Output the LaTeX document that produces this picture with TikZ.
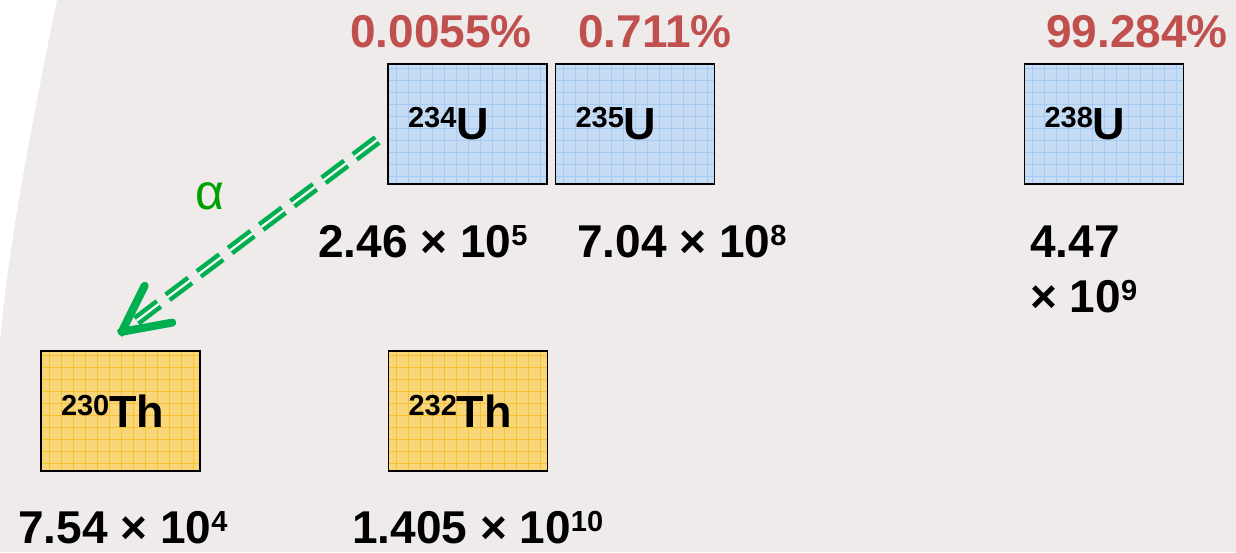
\documentclass[tikz,border=0pt]{standalone}
\usepackage{fontspec}
\setmainfont{Liberation Sans}
\usetikzlibrary{arrows.meta, positioning, calc}
\definecolor{slideBg}{HTML}{F0EBEB}
\definecolor{uBlue}{HTML}{C6DCF5}
\definecolor{uGrid}{HTML}{A6CBF2}
\definecolor{thGold}{HTML}{F8D679}
\definecolor{thGrid}{HTML}{F5C232}
\definecolor{pctRed}{HTML}{C0504D}
\definecolor{alphaGreen}{HTML}{00B050}
\definecolor{alphaText}{HTML}{00A000}
\newcommand{\isosup}[1]{\raisebox{12pt}{\fontsize{29}{29}\selectfont #1}}
\tikzset{
  isoBox/.style={rectangle, draw=black, line width=1.6pt, inner xsep=20pt,
                 inner ysep=0pt, text width=119pt, minimum height=120pt,
                 align=left, font=\bfseries\fontsize{45}{50}\selectfont},
  boxU/.style={isoBox, fill=uBlue,
               path picture={\draw[uGrid, line width=0.8pt, step=12pt]
                 (path picture bounding box.south west) grid
                 (path picture bounding box.north east);}},
  boxTh/.style={isoBox, fill=thGold,
                path picture={\draw[thGrid, line width=0.8pt, step=12pt]
                  (path picture bounding box.south west) grid
                  (path picture bounding box.north east);}},
  pctLbl/.style={anchor=base, inner sep=0pt, text=pctRed,
                 font=\bfseries\fontsize{46}{50}\selectfont},
  lifeLbl/.style={anchor=base west, inner sep=0pt, align=left,
                  font=\bfseries\fontsize{46}{55}\selectfont},
  alphaShaft/.style={draw=alphaGreen, line width=4.5pt, double=white,
                     double distance=2.2pt, dash pattern=on 28pt off 11pt},
  alphaTip/.style={-{Straight Barb[length=46pt, width=46pt, line width=8pt, round]},
                   draw=alphaGreen, line width=8pt},
  alphaLbl/.style={inner sep=0pt, text=alphaText, font=\fontsize{50}{54}\selectfont},
}
\begin{document}
\begin{tikzpicture}[x=1pt, y=-1pt]
  \useasboundingbox (0,0) rectangle (1236,552);
  \fill[slideBg] (0,0) rectangle (1236,552);
  \fill[white] (0,0) -- (57,0) .. controls (30,130) and (8,250) .. (0,340) -- cycle;
  % isotope boxes
  \foreach \n/\m/\x in {u234/234/467.5, u235/235/635, u238/238/1104}
    \node[boxU] (\n) at (\x,124) {\isosup{\m}U};
  \node[boxTh] (th230) at (120.5,411) {\isosup{230}Th};
  \node[boxTh] (th232) at (468,411) {\isosup{232}Th};
  % abundances
  \foreach \n/\x/\t in {234/441/0.0055, 235/655/0.711, 238/1137/99.284}
    \node[pctLbl] (p\n) at (\x,47) {\t\%};
  % half-lives
  \node[lifeLbl] (t234) at (318,257) {2.46 × 10\isosup{5}};
  \node[lifeLbl] (t235) at (577,257) {7.04 × 10\isosup{8}};
  \node[lifeLbl] (t238) at (1030,312) {4.47\\× 10\isosup{9}};
  \node[lifeLbl] (t230) at (18,543) {7.54 × 10\isosup{4}};
  \node[lifeLbl] (t232) at (352,543) {1.405 × 10\isosup{10}};
  % alpha decay
  \coordinate (aStart) at ($(u234.west)+(-10,16)$);
  \coordinate (aEnd) at ($(th230.north)+(-2,-16)$);
  \draw[alphaShaft] (aStart) -- ($(aEnd)!8pt!(aStart)$);
  \draw[alphaTip] ($(aEnd)!1pt!(aStart)$) -- (aEnd);
  \node[alphaLbl] (alpha) at (210,196) {α};
\end{tikzpicture}
\end{document}
